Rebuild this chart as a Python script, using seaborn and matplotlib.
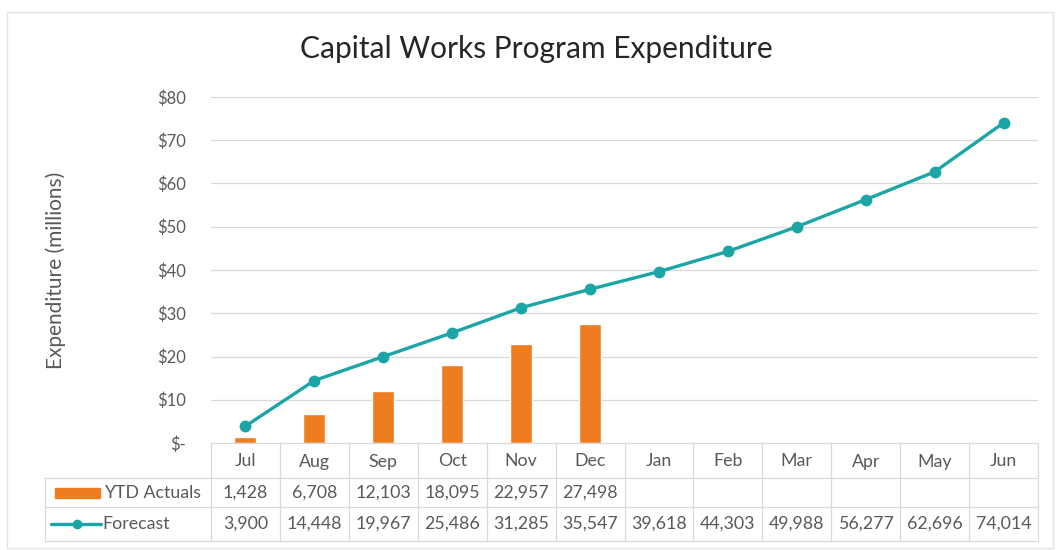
import matplotlib
matplotlib.use("Agg")
import matplotlib.pyplot as plt
from matplotlib.patches import Rectangle
from matplotlib.lines import Line2D
import seaborn as sns
import pandas as pd

sns.set_theme(style="white")
plt.rcParams["font.family"] = ["Lato", "DejaVu Sans"]

# Monthly figures, in thousands of dollars
months = ["Jul", "Aug", "Sep", "Oct", "Nov", "Dec",
          "Jan", "Feb", "Mar", "Apr", "May", "Jun"]
ytd_actuals = [1428, 6708, 12103, 18095, 22957, 27498]
forecast = [3900, 14448, 19967, 25486, 31285, 35547,
            39618, 44303, 49988, 56277, 62696, 74014]
y_ticks = [0, 10, 20, 30, 40, 50, 60, 70, 80]
y_tick_labels = ["$-", "$10", "$20", "$30", "$40", "$50", "$60", "$70", "$80"]

ORANGE = "#ee7d22"
TEAL = "#1ba5a6"
GRID = "#d9d9d9"
TEXT = "#595959"
FS = 12.8

W, H = 1056, 550
fig = plt.figure(figsize=(W / 100, H / 100), dpi=100)
fig.patch.set_facecolor("white")

# light frame around the whole chart
fig.patches.append(Rectangle((7 / W, 2 / H), (W - 10) / W, (H - 14) / H,
                             transform=fig.transFigure, fill=False,
                             edgecolor="#e4e4e4", linewidth=1.0))

ax_l, ax_r, ax_top, ax_bot = 211, 1038, 97, 443
ax = fig.add_axes([ax_l / W, 1 - ax_bot / H, (ax_r - ax_l) / W, (ax_bot - ax_top) / H])

bar_df = pd.DataFrame({"month": months[:len(ytd_actuals)],
                       "value": [v / 1000 for v in ytd_actuals]})
line_df = pd.DataFrame({"month": months, "value": [v / 1000 for v in forecast]})
x_pos = list(range(len(months)))

sns.barplot(x=list(range(len(ytd_actuals))), y=bar_df["value"], ax=ax,
            color=ORANGE, width=0.32, saturation=1, native_scale=True, zorder=2)
sns.lineplot(x=x_pos, y=line_df["value"], ax=ax, color=TEAL, linewidth=2.4,
             marker="o", markersize=8.5, markeredgewidth=0, zorder=3)

ax.set_xlim(-0.5, len(months) - 0.5)
ax.set_ylim(0, 80)
ax.set_yticks(y_ticks)
ax.set_yticklabels(y_tick_labels, color=TEXT, fontsize=12)
ax.set_xticks([])
ax.set_xlabel("")
ax.set_ylabel("Expenditure (millions)", color=TEXT, fontsize=15, labelpad=0)
ax.yaxis.set_label_coords(-(ax_l - 66) / (ax_r - ax_l), 0.5)
ax.tick_params(axis="y", length=0, pad=18)
for yt in y_ticks[1:]:
    ax.axhline(yt, color=GRID, linewidth=0.9, zorder=0)
for s in ax.spines.values():
    s.set_visible(False)

fig.text((300 + 773) / 2 / W, 1 - 49 / H, "Capital Works Program Expenditure",
         ha="center", va="center", fontsize=21.5, color="#262626")

# data table underneath, laid out in pixel coordinates
tab = fig.add_axes([0, 0, 1, 1], facecolor="none")
tab.set_xlim(0, W)
tab.set_ylim(H, 0)
tab.axis("off")

col_w = (ax_r - ax_l) / len(months)
row_top, row1, row2, row_bot = 443, 478, 507, 541
leg_l = 45

def hline(y, x0, x1):
    tab.add_line(Line2D([x0, x1], [y, y], color=GRID, linewidth=0.9))

def vline(x, y0, y1):
    tab.add_line(Line2D([x, x], [y0, y1], color=GRID, linewidth=0.9))

hline(row_top, ax_l, ax_r)
for y in (row1, row2, row_bot):
    hline(y, leg_l, ax_r)
vline(leg_l, row1, row_bot)
for i in range(len(months) + 1):
    vline(ax_l + i * col_w, row_top, row_bot)

for i, m in enumerate(months):
    cx = ax_l + (i + 0.5) * col_w
    tab.text(cx, (row_top + row1) / 2 + 1, m, ha="center", va="center",
             fontsize=FS, color=TEXT)
    if i < len(ytd_actuals):
        tab.text(cx, (row1 + row2) / 2, f"{ytd_actuals[i]:,}", ha="center",
                 va="center", fontsize=FS, color=TEXT)
    tab.text(cx, (row2 + row_bot) / 2, f"{forecast[i]:,}", ha="center",
             va="center", fontsize=FS, color=TEXT)

# legend keys inside the table
tab.add_patch(Rectangle((55, (row1 + row2) / 2 - 5), 45, 10, color=ORANGE))
tab.text(104, (row1 + row2) / 2, "YTD Actuals", ha="left", va="center",
         fontsize=FS, color=TEXT)
ym = (row2 + row_bot) / 2
tab.add_line(Line2D([51, 101], [ym, ym], color=TEAL, linewidth=2.4))
tab.add_line(Line2D([77], [ym], color=TEAL, marker="o", markersize=7,
                    markeredgewidth=0))
tab.text(102, ym, "Forecast", ha="left", va="center", fontsize=FS, color=TEXT)

fig.savefig("out.png", dpi=100, facecolor="white")
